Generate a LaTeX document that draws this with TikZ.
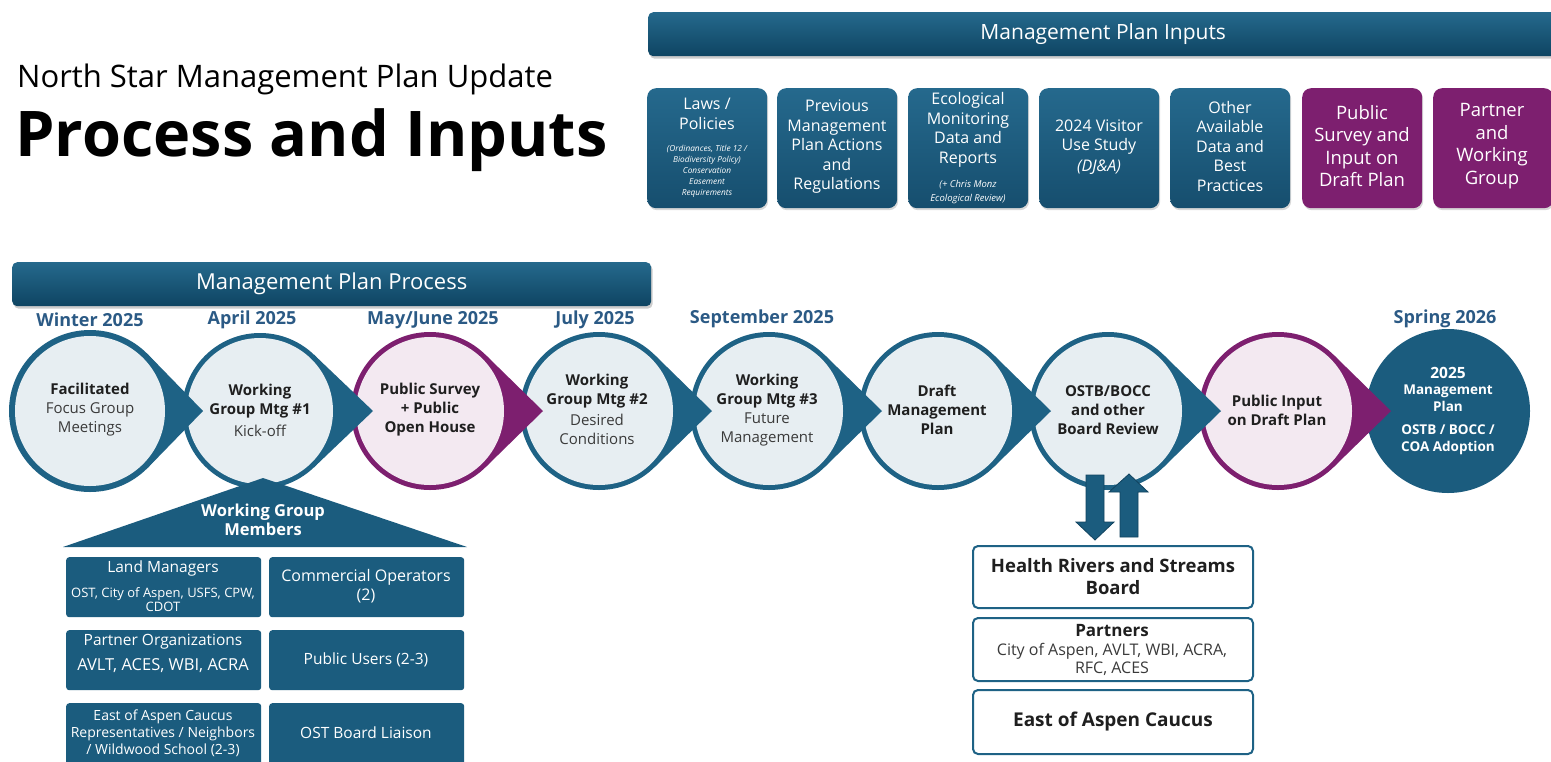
\documentclass[tikz,border=0pt]{standalone}
\usepackage{fontspec}
\setmainfont{Open Sans}
\usetikzlibrary{calc,shadows}

\definecolor{ringblue}{HTML}{1E6285}
\definecolor{lightfill}{HTML}{E7EEF2}
\definecolor{pinkfill}{HTML}{F3E9F1}
\definecolor{nspurple}{HTML}{7D1F6F}
\definecolor{datecol}{HTML}{2B5A85}
\definecolor{memblue}{HTML}{1B5C7E}
\definecolor{deepblue}{HTML}{11435F}
\definecolor{intop}{HTML}{25698D}
\definecolor{inbot}{HTML}{164E6E}
\definecolor{bartop}{HTML}{25698C}
\definecolor{barbot}{HTML}{0E4462}
\definecolor{boldtxt}{HTML}{1F1F1F}
\definecolor{softtxt}{HTML}{3A3A3A}

% fs{size}{skip}
\newcommand\fs[2]{\fontsize{#1}{#2}\selectfont}

% one process step: circle with a pointed tip to the right
% #1 name, #2 x centre, #3 ring colour, #4 inner fill, #5 outer radius, #6 inner radius
\newcommand\procstep[6]{%
  \coordinate (#1) at (#2,411);
  \pgfmathsetmacro\nsang{acos(#5/113)}
  \fill[#3] ($(#1)+(\nsang:#5)$) -- ($(#1)+(113,0)$) -- ($(#1)+(-\nsang:#5)$) -- cycle;
  \fill[#3] (#1) circle[radius=#5];
  \fill[#4] (#1) circle[radius=#6];
}

\begin{document}
\begin{tikzpicture}[x=1pt,y=-1pt,
  hdrbar/.style={rounded corners=5pt, top color=bartop, bottom color=barbot,
    drop shadow={shadow xshift=1.5pt,shadow yshift=-2.5pt,opacity=0.4},
    text=white, minimum height=44pt, anchor=north west, inner sep=0pt},
  inbox/.style={rounded corners=9pt, minimum width=120pt, minimum height=120pt,
    anchor=north west, inner sep=0pt,
    drop shadow={shadow xshift=1pt,shadow yshift=-2pt,opacity=0.3}},
  bluein/.style={inbox, top color=intop, bottom color=inbot},
  purplein/.style={inbox, fill=nspurple},
  intext/.style={text=white, align=center, inner sep=0pt, font=\fs{16}{19.5}},
  insmall/.style={text=white, align=center, inner sep=0pt},
  datelbl/.style={text=datecol, font=\fs{18}{20}\bfseries, inner sep=0pt},
  steptxt/.style={align=center, inner sep=0pt, text=softtxt, font=\fs{15}{19}},
  membox/.style={fill=memblue, rounded corners=3pt, minimum width=195pt,
    minimum height=60pt, anchor=north west, inner sep=0pt},
  memtxt/.style={text=white, align=center, inner sep=0pt},
  rbox/.style={draw=ringblue, line width=2pt, fill=white, rounded corners=5pt,
    minimum width=280pt, anchor=north west, inner sep=0pt},
  blockarrow/.style={fill=memblue, draw=deepblue, line width=0.8pt}
]
\useasboundingbox (0,0) rectangle (1551,761);
\fill[white] (0,0) rectangle (1551,761);

% ---------- title ----------
\node[anchor=west, inner sep=0pt, font=\fs{31}{36}] (subtitle) at (17,79) {North Star Management Plan Update};
\node[anchor=west, inner sep=0pt, font=\fs{63}{72}\bfseries] (title) at (15,140) {Process and Inputs};

% ---------- inputs ----------
\node[hdrbar, minimum width=910pt, font=\fs{21}{25}] (inhdr) at (648,12) {Management Plan Inputs};

\node[bluein] (in1) at (647,88) {};
\node[bluein] (in2) at (777,88) {};
\node[bluein] (in3) at (908,88) {};
\node[bluein] (in4) at (1039,88) {};
\node[bluein] (in5) at (1170,88) {};
\node[purplein] (in6) at (1302,88) {};
\node[purplein] (in7) at (1433,88) {};

\node[intext] (in1a) at (707,114) {Laws /\\Policies};
\node[insmall, font=\fs{8.3}{11}\itshape] (in1b) at (707,171) {(Ordinances, Title 12 /\\Biodiversity Policy)\\Conservation\\Easement\\Requirements};
\node[intext] (in2a) at (837,147) {Previous\\Management\\Plan Actions\\and\\Regulations};
\node[intext] (in3a) at (968,130) {Ecological\\Monitoring\\Data and\\Reports};
\node[insmall, font=\fs{9.5}{14}\itshape] (in3b) at (968,192) {(+ Chris Monz\\Ecological Review)};
\node[intext] (in4a) at (1099,137) {2024 Visitor\\Use Study};
\node[intext, font=\fs{16}{19.5}\itshape] (in4b) at (1099,167) {(DJ\&A)};
\node[intext] (in5a) at (1230,146) {Other\\Available\\Data and\\Best\\Practices};
\node[intext, font=\fs{18.5}{22.5}] (in6a) at (1362,146) {Public\\Survey and\\Input on\\Draft Plan};
\node[intext, font=\fs{18.5}{22.5}] (in7a) at (1492,146) {Partner\\and\\Working\\Group};

% ---------- process ----------
\node[hdrbar, minimum width=639pt, font=\fs{22}{26}] (prochdr) at (12,262) {Management Plan Process};

\node[datelbl] (d1) at (90,320) {Winter 2025};
\node[datelbl] (d2) at (252,320) {April 2025};
\node[datelbl] (d3) at (433,320) {May/June 2025};
\node[datelbl] (d4) at (595,320) {July 2025};
\node[datelbl] (d5) at (762,319) {September 2025};
\node[datelbl] (d9) at (1445,319) {Spring 2026};

% steps are laid down right to left so every tip lies over the next circle
\coordinate (p9) at (1448,411);
\fill[memblue] (p9) circle[radius=82];
\procstep{p8}{1278}{nspurple}{pinkfill}{79}{74}
\procstep{p7}{1108}{ringblue}{lightfill}{79}{74}
\procstep{p6}{938}{ringblue}{lightfill}{79}{74}
\procstep{p5}{769}{ringblue}{lightfill}{79}{74}
\procstep{p4}{599}{ringblue}{lightfill}{79}{74}
\procstep{p3}{430}{nspurple}{pinkfill}{79}{74}
\procstep{p2}{260}{ringblue}{lightfill}{78}{73}
\procstep{p1}{90}{ringblue}{lightfill}{81}{75}

\node[steptxt] (t1) at (90,410) {\textcolor{boldtxt}{\textbf{Facilitated}}\\Focus Group\\Meetings};
\node[steptxt] (t2) at (260,410) {\textcolor{boldtxt}{\textbf{Working}}\\\textcolor{boldtxt}{\textbf{Group Mtg \#1}}\\[3pt]Kick-off};
\node[steptxt, text=boldtxt, font=\fs{15}{19}\bfseries] (t3) at (430,410) {Public Survey\\+ Public\\Open House};
\node[steptxt] (t4) at (597,409) {\textcolor{boldtxt}{\textbf{Working}}\\\textcolor{boldtxt}{\textbf{Group Mtg \#2}}\\[2pt]Desired\\Conditions};
\node[steptxt] (t5) at (767,410) {\textcolor{boldtxt}{\textbf{Working}}\\\textcolor{boldtxt}{\textbf{Group Mtg \#3}}\\Future\\Management};
\node[steptxt, text=boldtxt, font=\fs{15}{19}\bfseries] (t6) at (937,410) {Draft\\Management\\Plan};
\node[steptxt, text=boldtxt, font=\fs{15}{19}\bfseries] (t7) at (1108,410) {OSTB/BOCC\\and other\\Board Review};
\node[steptxt, text=boldtxt, font=\fs{15}{19}\bfseries] (t8) at (1277,410) {Public Input\\on Draft Plan};
\node[steptxt, text=white, font=\fs{15.5}{18}\bfseries] (t9a) at (1448,373) {2025};
\node[steptxt, text=white, font=\fs{13.5}{17}\bfseries] (t9b) at (1448,398.5) {Management\\Plan};
\node[steptxt, text=white, font=\fs{13.5}{17}\bfseries] (t9c) at (1448,439.5) {OSTB / BOCC /\\COA Adoption};

% ---------- working group members ----------
\coordinate (apex) at (263,478);
\fill[memblue] (apex) -- (467,547) -- (63,547) -- cycle;
\node[memtxt, font=\fs{16.5}{19.5}\bfseries] (wgm) at (263,520) {Working Group\\Members};

\node[membox] (m1) at (66,557) {};
\node[membox] (m2) at (269,557) {};
\node[membox] (m3) at (66,630) {};
\node[membox] (m4) at (269,630) {};
\node[membox, minimum height=70pt] (m5) at (66,703) {};
\node[membox, minimum height=70pt] (m6) at (269,703) {};

\node[memtxt, font=\fs{15.5}{18}] (m1a) at (163,568) {Land Managers};
\node[memtxt, font=\fs{13}{13.5}] (m1b) at (163,599.5) {OST, City of Aspen, USFS, CPW,\\CDOT};
\node[memtxt, font=\fs{16}{19}] (m2a) at (366,586.5) {Commercial Operators\\(2)};
\node[memtxt, font=\fs{15.5}{18}] (m3a) at (163,642) {Partner Organizations};
\node[memtxt, font=\fs{16.5}{18}] (m3b) at (163,666) {AVLT, ACES, WBI, ACRA};
\node[memtxt, font=\fs{15.5}{18}] (m4a) at (366,660) {Public Users (2-3)};
\node[memtxt, font=\fs{14}{16.8}] (m5a) at (163,733) {East of Aspen Caucus\\Representatives / Neighbors\\/ Wildwood School (2-3)};
\node[memtxt, font=\fs{15.5}{18}] (m6a) at (366,733) {OST Board Liaison};

% ---------- board review partners ----------
\node[rbox, minimum height=62pt] (r1) at (972,545) {};
\node[rbox, minimum height=63pt] (r2) at (972,617) {};
\node[rbox, minimum height=64pt] (r3) at (972,689) {};
\node[align=center, inner sep=0pt, text=boldtxt, font=\fs{18.5}{22}\bfseries] (r1a) at (r1.center) {Health Rivers and Streams\\Board};
\node[align=center, inner sep=0pt, text=boldtxt, font=\fs{17}{19}\bfseries] (r2a) at (1112,631) {Partners};
\node[align=center, inner sep=0pt, text=softtxt, font=\fs{16}{17.5}] (r2b) at (1112,659.5) {City of Aspen, AVLT, WBI, ACRA,\\RFC, ACES};
\node[align=center, inner sep=0pt, text=boldtxt, font=\fs{19}{20}\bfseries] (r3a) at (r3.center) {East of Aspen Caucus};

% two-way exchange between the review step and the boards
\path[blockarrow] ($(r1.north)+(-27,-70)$) -- ++(18,0) -- ++(0,47) -- ++(10,0)
  -- ++(-19,18) -- ++(-19,-18) -- ++(10,0) -- cycle;
\path[blockarrow] ($(r1.north)+(7,-8)$) -- ++(18,0) -- ++(0,-45) -- ++(10,0)
  -- ++(-19,-18) -- ++(-20,18) -- ++(11,0) -- cycle;
\end{tikzpicture}
\end{document}
